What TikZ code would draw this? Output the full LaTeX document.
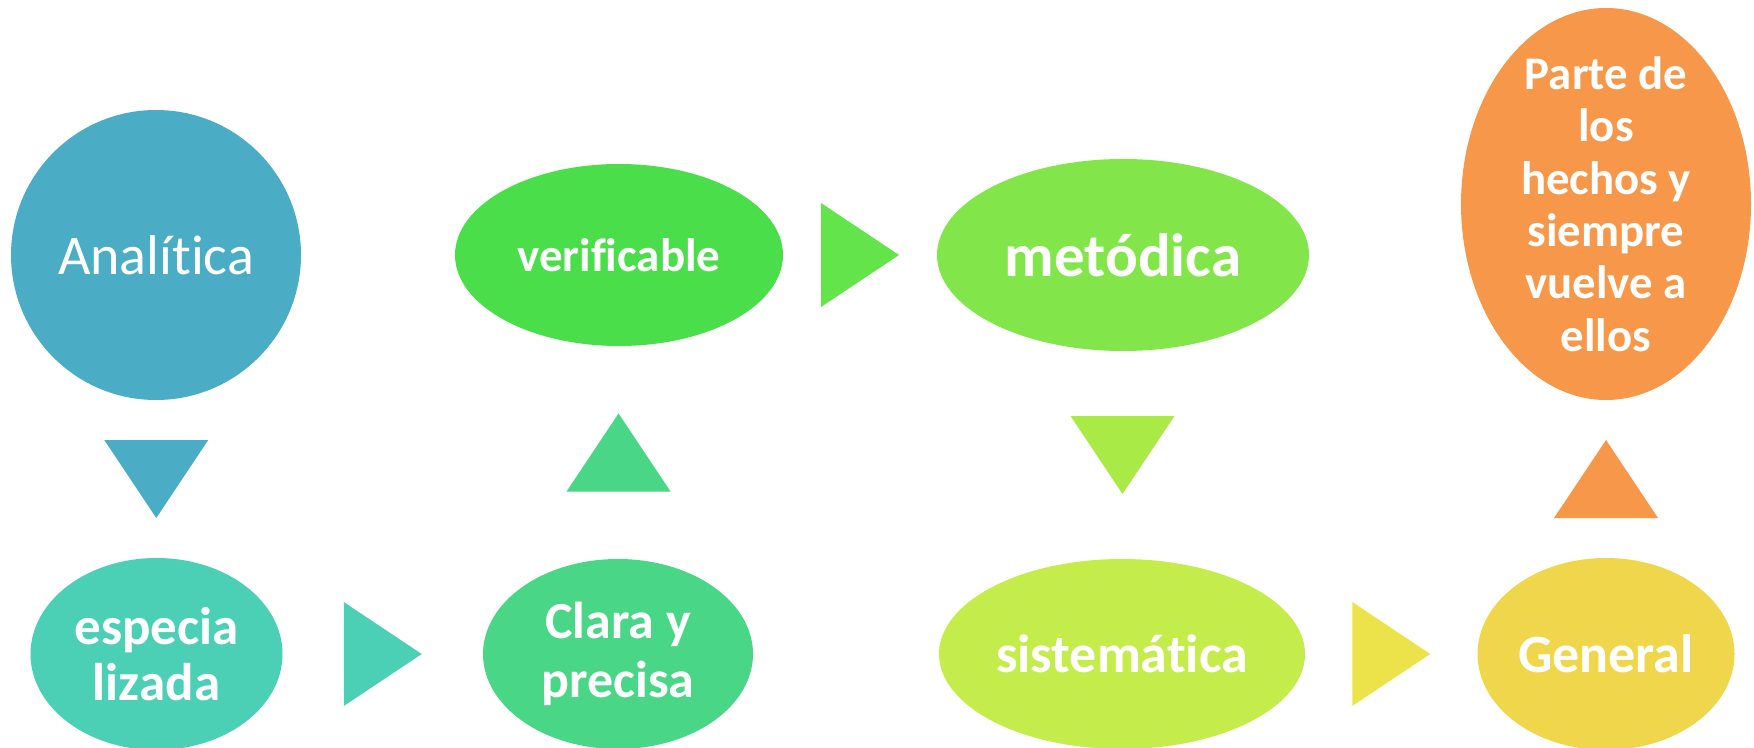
\documentclass[tikz,border=0pt]{standalone}
\usepackage{fontspec}
\setmainfont{Carlito}[Ligatures=NoCommon]
\usetikzlibrary{calc,shapes.geometric}
\definecolor{anacolor}{RGB}{75,172,198}
\definecolor{espcolor}{RGB}{75,207,181}
\definecolor{clacolor}{RGB}{73,214,134}
\definecolor{vercolor}{RGB}{74,223,74}
\definecolor{vermetcolor}{RGB}{99,228,74}
\definecolor{metcolor}{RGB}{130,230,75}
\definecolor{metsiscolor}{RGB}{170,234,70}
\definecolor{siscolor}{RGB}{196,236,74}
\definecolor{sisgencolor}{RGB}{236,226,74}
\definecolor{gencolor}{RGB}{240,214,74}
\definecolor{orgcolor}{RGB}{246,151,74}
\newcommand{\px}{0.5pt}
\newcommand{\halfbase}{52}
\newcommand{\halfdepth}{39}

\begin{document}
\begin{tikzpicture}[x=\px,y=-\px,
  bub/.style={ellipse,inner sep=0pt,text=white,align=center},
  bold/.style 2 args={font=\bfseries\fontsize{#1}{#2}\selectfont}]
\useasboundingbox (0,0) rectangle (1754,748);
% bubbles
\node[bub,fill=anacolor] (ana) at (156,255) [circle,minimum size=290*\px,font=\fontsize{28}{34}\selectfont] {Analítica};
\node[bub,fill=espcolor] (esp) at (156.5,654) [minimum width=252*\px,minimum height=192*\px,bold={26.5}{28.3}] {especia\\lizada};
\node[bub,fill=clacolor] (cla) at (618,654) [minimum width=270*\px,minimum height=190*\px,bold={26}{29.5}] {Clara y\\precisa};
\node[bub,fill=vercolor] (ver) at (619,255) [minimum width=328*\px,minimum height=182*\px,bold={23.5}{28}] {verificable};
\node[bub,fill=metcolor] (met) at (1123,255) [minimum width=372*\px,minimum height=192*\px,bold={30.5}{36}] {metódica};
\node[bub,fill=siscolor] (sis) at (1122,654) [minimum width=366*\px,minimum height=190*\px,bold={27}{32}] {sistemática};
\node[bub,fill=gencolor] (gen) at (1606,654) [minimum width=257*\px,minimum height=192*\px,bold={27}{32}] {General};
\node[bub,fill=orgcolor] (org) at (1606,204) [minimum width=290*\px,minimum height=392*\px,inner ysep=-12pt,bold={23.4}{26.2}] {Parte de\\los\\hechos y\\siempre\\vuelve a\\ellos};
% arrows
\coordinate (a1) at ($(ana.south)!0.5!(esp.north)$);
\coordinate (a2) at ($(esp.east)!0.5!(cla.west)$);
\coordinate (a3) at ($(cla.north)!0.5!(ver.south)$);
\coordinate (a4) at ($(ver.east)!0.5!(met.west)$);
\coordinate (a5) at ($(met.south)!0.5!(sis.north)$);
\coordinate (a6) at ($(sis.east)!0.5!(gen.west)$);
\coordinate (a7) at ($(gen.north)!0.5!(org.south)$);
\fill[anacolor] ($(a1)+(-\halfbase,-\halfdepth)$) -- ($(a1)+(\halfbase,-\halfdepth)$) -- ($(a1)+(0,\halfdepth)$) -- cycle;
\fill[espcolor] ($(a2)+(-\halfdepth,-\halfbase)$) -- ($(a2)+(-\halfdepth,\halfbase)$) -- ($(a2)+(\halfdepth,0)$) -- cycle;
\fill[clacolor] ($(a3)+(-\halfbase,\halfdepth)$) -- ($(a3)+(\halfbase,\halfdepth)$) -- ($(a3)+(0,-\halfdepth)$) -- cycle;
\fill[vermetcolor] ($(a4)+(-\halfdepth,-\halfbase)$) -- ($(a4)+(-\halfdepth,\halfbase)$) -- ($(a4)+(\halfdepth,0)$) -- cycle;
\fill[metsiscolor] ($(a5)+(-\halfbase,-\halfdepth)$) -- ($(a5)+(\halfbase,-\halfdepth)$) -- ($(a5)+(0,\halfdepth)$) -- cycle;
\fill[sisgencolor] ($(a6)+(-\halfdepth,-\halfbase)$) -- ($(a6)+(-\halfdepth,\halfbase)$) -- ($(a6)+(\halfdepth,0)$) -- cycle;
\fill[orgcolor] ($(a7)+(-\halfbase,\halfdepth)$) -- ($(a7)+(\halfbase,\halfdepth)$) -- ($(a7)+(0,-\halfdepth)$) -- cycle;
\end{tikzpicture}
\end{document}
